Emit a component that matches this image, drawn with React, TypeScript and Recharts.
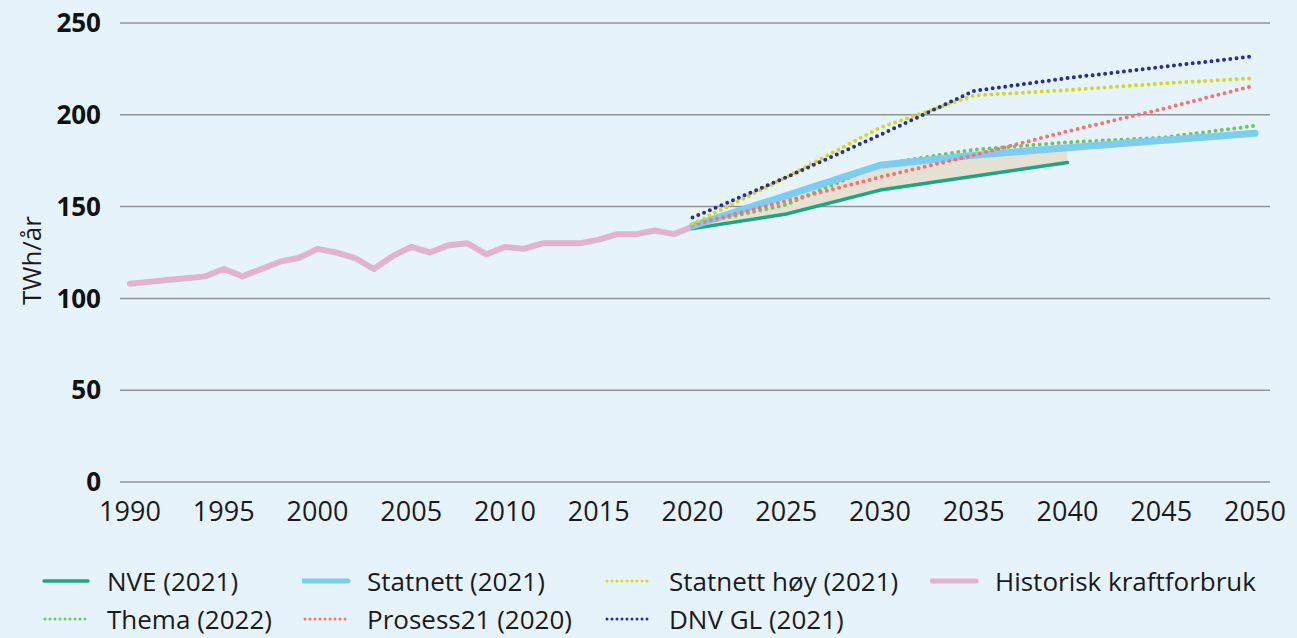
import React from "react";
import {
  ComposedChart,
  Line,
  Area,
  XAxis,
  YAxis,
  CartesianGrid,
  Label,
} from "recharts";

// historisk forbruk 1990-2020
const historicYears = [
  1990, 1991, 1992, 1993, 1994, 1995, 1996, 1997, 1998, 1999, 2000, 2001, 2002,
  2003, 2004, 2005, 2006, 2007, 2008, 2009, 2010, 2011, 2012, 2013, 2014, 2015,
  2016, 2017, 2018, 2019, 2020,
];
const historic = [
  108, 109, 110, 111, 112, 116, 112, 116, 120, 122, 127, 125, 122, 116, 123,
  128, 125, 129, 130, 124, 128, 127, 130, 130, 130, 132, 135, 135, 137, 135, 139,
];

// framskrivinger
const forecastYears = [2020, 2025, 2030, 2035, 2040, 2045, 2050];
const nve = [138, 146, 159, 166.5, 174, null, null];
const statnett = [139.5, 156, 172.5, 178, 182, 186, 190];
const statnettHoy = [140.5, 166, 193, 210.5, 213.5, 217, 220];
const thema = [140, 151, 173, 181, 185, 187.5, 194];
const prosess21 = [140, 153, 166, 178, 191, 203, 216];
const dnvgl = [144, 166, 189, 213, 220, 226, 232];

const yTicks = [0, 50, 100, 150, 200, 250];
const xTicks = [1990, 1995, 2000, 2005, 2010, 2015, 2020, 2025, 2030, 2035, 2040, 2045, 2050];

const dotted = { strokeDasharray: "0 6.3", strokeLinecap: "round" as const };

const series = [
  { key: "nve", name: "NVE (2021)", color: "#1ea67f", width: 3.5, dot: false },
  { key: "statnett", name: "Statnett (2021)", color: "#7dcdf1", width: 7, dot: false },
  { key: "statnettHoy", name: "Statnett høy (2021)", color: "#d6d725", width: 4, dot: true },
  { key: "historic", name: "Historisk kraftforbruk", color: "#e2b3cf", width: 6, dot: false },
  { key: "thema", name: "Thema (2022)", color: "#6cc46b", width: 4, dot: true },
  { key: "prosess21", name: "Prosess21 (2020)", color: "#f27474", width: 4, dot: true },
  { key: "dnvgl", name: "DNV GL (2021)", color: "#2b2f8d", width: 4, dot: true },
];

const rows: any[] = historicYears.map((year, i) => ({ year, historic: historic[i] }));
forecastYears.forEach((year, i) => {
  let row = rows.find((r) => r.year === year);
  if (!row) {
    row = { year };
    rows.push(row);
  }
  row.nve = nve[i];
  row.statnett = statnett[i];
  row.statnettHoy = statnettHoy[i];
  row.thema = thema[i];
  row.prosess21 = prosess21[i];
  row.dnvgl = dnvgl[i];
  if (nve[i] != null) row.band = [nve[i], statnett[i]];
});

const font = "'Open Sans', 'Noto Sans', sans-serif";

function line(key: string) {
  const s = series.find((x) => x.key === key)!;
  return (
    <Line
      key={key}
      type="linear"
      dataKey={key}
      stroke={s.color}
      strokeWidth={s.width}
      dot={false}
      activeDot={false}
      connectNulls
      isAnimationActive={false}
      strokeLinejoin="round"
      strokeLinecap="round"
      {...(s.dot ? dotted : {})}
    />
  );
}

function LegendBox() {
  const cols = [42, 302, 604, 930];
  const rowsY = [581, 619];
  return (
    <>
      {series.map((s, i) => {
        const c = i < 4 ? i : i - 4;
        const r = i < 4 ? 0 : 1;
        return (
          <div
            key={s.key}
            style={{
              position: "absolute",
              left: cols[c],
              top: rowsY[r] - 14,
              height: 28,
              lineHeight: "28px",
              display: "flex",
              alignItems: "center",
              fontFamily: font,
              fontSize: 26,
              color: "#1a1a1a",
              whiteSpace: "nowrap",
            }}
          >
            <svg width={50} height={12} style={{ marginRight: 15 }}>
              <line
                x1={s.dot ? 3 : 2}
                y1={6}
                x2={s.dot ? 47 : 46}
                y2={6}
                stroke={s.color}
                strokeWidth={s.dot ? 3 : Math.min(s.width, 5)}
                strokeLinecap="round"
                strokeDasharray={s.dot ? "0 5" : undefined}
              />
            </svg>
            {s.name}
          </div>
        );
      })}
    </>
  );
}

export default function App() {
  return (
    <div
      style={{
        position: "relative",
        width: 1297,
        height: 638,
        background: "#e6f3fb",
        overflow: "hidden",
      }}
    >
      <style>{`body{margin:0}`}</style>
      <ComposedChart
        width={1297}
        height={638}
        data={rows}
        margin={{ top: 23, right: 27, left: 20, bottom: 116 }}
      >
        <CartesianGrid vertical={false} stroke="#8f9397" strokeWidth={1.5} />
        <XAxis
          dataKey="year"
          type="number"
          domain={[1990, 2050]}
          ticks={xTicks}
          padding={{ left: 10, right: 15 }}
          axisLine={false}
          tickLine={false}
          tickSize={0}
          tickMargin={20}
          height={40}
          interval={0}
          tick={{ fontSize: 27, fill: "#1a1a1a", fontFamily: font }}
        />
        <YAxis
          type="number"
          domain={[0, 250]}
          ticks={yTicks}
          width={100}
          axisLine={false}
          tickLine={false}
          tickSize={0}
          tickMargin={19}
          tick={{ fontSize: 26, fill: "#111", fontWeight: 700, fontFamily: font }}
        >
          <Label
            value="TWh/år"
            angle={-90}
            position="insideLeft"
            offset={12}
            dy={8}
            style={{ fontSize: 26, fill: "#1a1a1a", fontFamily: font, textAnchor: "middle" }}
          />
        </YAxis>
        <Area
          type="linear"
          dataKey="band"
          fill="#e5e2d5"
          fillOpacity={1}
          stroke="none"
          isAnimationActive={false}
          activeDot={false}
        />
        {line("historic")}
        {line("nve")}
        {line("thema")}
        {line("statnett")}
        {line("prosess21")}
        {line("statnettHoy")}
        {line("dnvgl")}
      </ComposedChart>
      <LegendBox />
    </div>
  );
}
